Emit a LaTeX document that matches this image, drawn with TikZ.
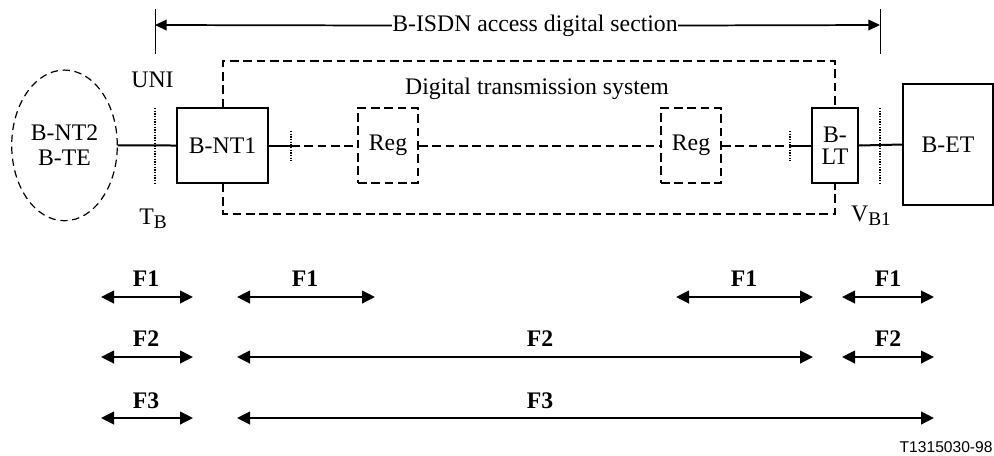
\documentclass[tikz,border=0pt]{standalone}
\usepackage{fontspec}
\setmainfont{Liberation Serif}
\newfontfamily\tagfont{Liberation Sans}
\usetikzlibrary{arrows.meta,shapes.geometric}

\tikzset{every picture/.style={line width=0.75pt}}
\tikzset{
  txt/.style={inner sep=0pt, align=center, font=\fontsize{17.8}{19}\selectfont},
  box/.style={txt, draw, line width=1.1pt, fill=white},
  dbox/.style={box, line width=1.5pt, dash pattern=on 6.5pt off 3.5pt},
  solidline/.style={line width=1.5pt},
  dashline/.style={line width=1.5pt, dash pattern=on 6.5pt off 3.5pt},
  dotline/.style={line width=1.2pt, dash pattern=on 1pt off 1pt},
  fbold/.style={txt, font=\fontsize{17.8}{19}\selectfont\bfseries},
  farrow/.style={line width=1.6pt, {Triangle[length=9.75pt,width=9.5pt]}-{Triangle[length=9.75pt,width=9.5pt]}},
  secarrow/.style={line width=1.3pt, -{Triangle[length=8.75pt,width=8pt]}}
}
\newcommand{\subtxt}[1]{\raisebox{-0.35ex}{\fontsize{14.5}{15}\selectfont #1}}

\begin{document}
\begin{tikzpicture}[x=0.75pt,y=0.75pt,yscale=-1,xscale=1]
\useasboundingbox (0,0) rectangle (994,455);

%Section limits
\draw [line width=0.7pt] (155,9) -- (155,54) ;
\draw [line width=0.7pt] (880,9) -- (880,54) ;
\coordinate (secl) at (155,25);
\coordinate (secr) at (880,25);
% Text Node
\node [txt] (sec) at (535,25.5) {B-ISDN access digital section};
\draw [secarrow] (sec.west) -- (secl) ;
\draw [secarrow] (sec.east) -- (secr) ;

%Shape: Ellipse
\node [txt, draw, line width=0.9pt, dash pattern=on 5.5pt off 3.5pt, ellipse, minimum width=79.2pt, minimum height=113pt, font=\fontsize{17.8}{18.75}\selectfont] (nt2) at (64.5,145.4) {B-NT2\\B-TE};
%Shape: Boxes
\node [box, minimum width=68.25pt, minimum height=56.25pt] (nt1) at (222.5,145.5) {B-NT1};
\node [dbox, minimum width=45pt, minimum height=56.25pt] (reg1) at (388,145.5) {Reg};
\node [dbox, minimum width=45pt, minimum height=56.25pt] (reg2) at (691,145.5) {Reg};
\node [box, minimum width=34.5pt, minimum height=56.25pt, font=\fontsize{17.8}{16.5}\selectfont] (lt) at (835,145.5) {B-\\LT};
\node [box, minimum width=67.5pt, minimum height=90.75pt] (et) at (948,144.5) {B-ET};

%Digital transmission system
\draw [dashline] (nt1.north) -- ++(0,-46) -| (lt.north) ;
\draw [dashline] (nt1.south) -- ++(0,30) -| (lt.south) ;
% Text Node
\node [txt] (dts) at (537,89) {Digital transmission system};

%Straight Lines
\coordinate (t1) at (291,145.5);
\coordinate (t2) at (790,145.5);
\draw [solidline] (nt2.east) -- (nt1.west) ;
\draw [solidline] (nt1.east) -- (t1) ;
\draw [dashline] (t1) -- (reg1.west) ;
\draw [dashline] (reg1.east) -- (reg2.west) ;
\draw [dashline] (reg2.east) -- (t2) ;
\draw [solidline] (t2) -- (lt.west) ;
\draw [solidline] (lt.east) -- (et.west) ;

%Reference points
\draw [dotline] (155,108) -- (155,183) ;
\draw [dotline] (880,108) -- (880,183) ;
\draw [dotline] (291,131) -- (291,161) ;
\draw [dotline] (790,131) -- (790,161) ;

% Text Node
\node [txt] (uni) at (152.5,80) {UNI};
% Text Node
\node [txt] (tb) at (153,219) {T\subtxt{B}};
% Text Node
\node [txt] (vb) at (871,216) {V\subtxt{B1}};

%F1 row
\coordinate (a1) at (101,297); \coordinate (b1) at (193,297);
\coordinate (a2) at (237,297); \coordinate (b2) at (375,297);
\coordinate (a3) at (676,297); \coordinate (b3) at (813,297);
\coordinate (a4) at (842,297); \coordinate (b4) at (934,297);
\draw [farrow] (a1) -- (b1) ;
\draw [farrow] (a2) -- (b2) ;
\draw [farrow] (a3) -- (b3) ;
\draw [farrow] (a4) -- (b4) ;
\node [fbold] (fa1) at (146,278.5) {F1};
\node [fbold] (fa2) at (305,278.5) {F1};
\node [fbold] (fa3) at (744,278.5) {F1};
\node [fbold] (fa4) at (888,278.5) {F1};

%F2 row
\coordinate (c1) at (101,357); \coordinate (d1) at (193,357);
\coordinate (c2) at (237,357); \coordinate (d2) at (813,357);
\coordinate (c3) at (842,357); \coordinate (d3) at (934,357);
\draw [farrow] (c1) -- (d1) ;
\draw [farrow] (c2) -- (d2) ;
\draw [farrow] (c3) -- (d3) ;
\node [fbold] (fb1) at (146,339) {F2};
\node [fbold] (fb2) at (540,339) {F2};
\node [fbold] (fb3) at (888,339) {F2};

%F3 row
\coordinate (e1) at (101,418); \coordinate (g1) at (193,418);
\coordinate (e2) at (237,418); \coordinate (g2) at (934,418);
\draw [farrow] (e1) -- (g1) ;
\draw [farrow] (e2) -- (g2) ;
\node [fbold] (fc1) at (146,400.5) {F3};
\node [fbold] (fc2) at (540,400.5) {F3};

% Text Node
\node [anchor=east, inner sep=0pt, font=\tagfont\fontsize{11.7}{13}\selectfont] (tag) at (993,447) {T1315030-98};

\end{tikzpicture}
\end{document}
